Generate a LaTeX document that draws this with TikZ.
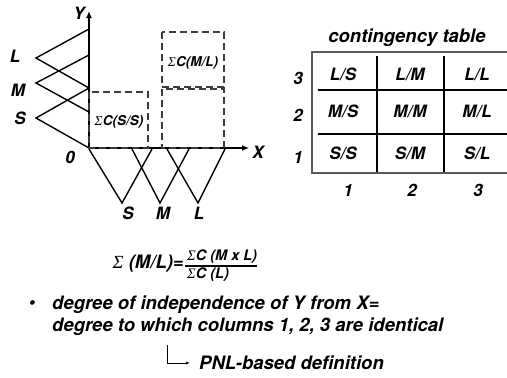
\documentclass[tikz,border=0pt]{standalone}
\usepackage{fontspec}
\setmainfont{TeX Gyre Heros}
\newfontfamily\sigfont{Liberation Serif}
\usetikzlibrary{arrows.meta}

\definecolor{tabFrame}{RGB}{90,90,90}
\definecolor{dashGray}{RGB}{60,60,60}

\newcommand{\sumsym}{{\sigfont\itshape\mdseries Σ}}

\tikzset{
  lbl/.style={font=\fontsize{17bp}{20bp}\selectfont\bfseries\itshape, inner sep=0pt},
  txt/.style={font=\fontsize{18.5bp}{22bp}\selectfont\bfseries\itshape, inner sep=0pt},
  small/.style={font=\fontsize{13.5bp}{16bp}\selectfont\bfseries\itshape, inner sep=0pt},
  fracpart/.style={font=\fontsize{14.5bp}{17bp}\selectfont\bfseries\itshape, inner sep=0pt},
  axis/.style={line width=2bp, -{Latex[length=7bp,width=6bp]}},
  mf/.style={line width=1.4bp},
  dbox/.style={draw=dashGray, line width=1.1bp, dash pattern=on 7bp off 4bp},
}

\begin{document}
\begin{tikzpicture}[x=1bp, y=-1bp]
  \useasboundingbox (0,0) rectangle (507,377);

  % axes
  \coordinate (O) at (89,148);
  \coordinate (ytip) at (89,11);
  \coordinate (xtip) at (249,148);
  \draw[axis] (O) -- (ytip);
  \draw[axis] (O) -- (xtip);
  \node[lbl] (ylab) at (79,13) {Y};
  \node[lbl] (xlab) at (258,152) {X};
  \node[lbl] (zero) at (70,157) {0};

  % membership functions on Y
  \foreach \nm/\ya/\yb/\yc/\lx/\ly in {L/29/58/88/15/56, M/55/83/112/18/90, S/88/118/148/20/118} {
    \draw[mf] (89,\ya) -- (36,\yb) -- (89,\yc);
    \node[lbl] (y\nm) at (\lx,\ly) {\nm};
  }

  % membership functions on X
  \foreach \nm/\xa/\xb/\xc/\lx in {S/89/122/152/128, M/132/160/189/163, L/167/198/225/199} {
    \draw[mf] (\xa,149) -- (\xb,203) -- (\xc,149);
    \node[lbl] (x\nm) at (\lx,213) {\nm};
  }

  % dashed sums
  \draw[dbox] (89,92) rectangle (148,148);
  \draw[dbox] (162,32) rectangle (224,87);
  \draw[dbox] (162,89) rectangle (224,148);
  \node[small] (sumSS) at (119,122) {\sumsym C(S/S)};
  \node[small] (sumML) at (193,63) {\sumsym C(M/L)};

  % contingency table
  \node[txt] (ctitle) at (407,38) {contingency table};
  \draw[draw=tabFrame, line width=2.5bp] (520,52) -- (312,52) -- (312,173) -- (520,173);
  \foreach \x in {377,444}
    \draw[line width=1.3bp] (\x,56) -- (\x,172);
  \foreach \y in {90,134}
    \draw[line width=1.3bp] (318,\y) -- (510,\y);
  \foreach \r/\ry/\rl in {3/74/L, 2/111/M, 1/153/S} {
    \node[lbl] (row\r) at (298,{\ry+4}) {\r};
    \foreach \c/\cx/\cl in {1/343/S, 2/410/M, 3/477/L}
      \node[lbl] (c\r\c) at (\cx,\ry) {\rl/\cl};
  }
  \foreach \c/\cx in {1/348, 2/412, 3/478}
    \node[lbl] (col\c) at (\cx,190) {\c};

  % formula
  \node[txt, anchor=east] (lhs) at (184,264) {\sumsym\ (M/L)=};
  \node[fracpart, anchor=west] (num) at (187,257) {\sumsym C (M x L)};
  \node[fracpart, anchor=west] (den) at (187,275) {\sumsym C (L)};
  \draw[line width=1.2bp] (185,266) -- (num.east |- 0,266);

  % remarks
  \node[txt] (bul) at (32,305) {\textbullet};
  \node[txt, anchor=west] (line1) at (52,305) {degree of independence of Y from X=};
  \node[txt, anchor=west] (line2) at (52,327) {degree to which columns 1, 2, 3 are identical};
  \node[txt, anchor=west, inner xsep=9bp] (pnl) at (190,363) {PNL-based definition};
  \coordinate (elb) at (167,345);
  \draw[line width=0.9bp, -{Latex[length=4bp,width=3bp]}] (elb) |- (pnl.west);
\end{tikzpicture}
\end{document}
